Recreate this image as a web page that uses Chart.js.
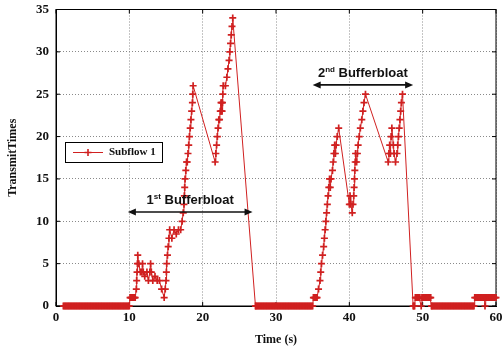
<!DOCTYPE html>
<html lang="en">
<head>
<meta charset="UTF-8">
<title>Subflow 1 Transmit Times</title>
<script src="https://cdn.jsdelivr.net/npm/chart.js"></script>
<style>
  body, html { margin: 0; padding: 0; background: #fff; }
  .chart-container { width: 502px; height: 347px; }
</style>
</head>
<body>
<div class="chart-container"><canvas id="txChart"></canvas></div>
<script>
// [time (s), transmit times], one array per phase
const idleStart = [
  [1,0],[1.125,0],[1.25,0],[1.375,0],[1.5,0],[1.625,0],[1.75,0],[1.875,0],
  [2,0],[2.125,0],[2.25,0],[2.375,0],[2.5,0],[2.625,0],[2.75,0],[2.875,0],
  [3,0],[3.125,0],[3.25,0],[3.375,0],[3.5,0],[3.625,0],[3.75,0],[3.875,0],
  [4,0],[4.125,0],[4.25,0],[4.375,0],[4.5,0],[4.625,0],[4.75,0],[4.875,0],
  [5,0],[5.125,0],[5.25,0],[5.375,0],[5.5,0],[5.625,0],[5.75,0],[5.875,0],
  [6,0],[6.125,0],[6.25,0],[6.375,0],[6.5,0],[6.625,0],[6.75,0],[6.875,0],
  [7,0],[7.125,0],[7.25,0],[7.375,0],[7.5,0],[7.625,0],[7.75,0],[7.875,0],
  [8,0],[8.125,0],[8.25,0],[8.375,0],[8.5,0],[8.625,0],[8.75,0],[8.875,0],
  [9,0],[9.125,0],[9.25,0],[9.375,0],[9.5,0],[9.625,0],[9.75,0],[9.875,0],
  [10,0]
];
const firstBloat = [
  [10.1,1],[10.2,1],[10.3,1],[10.4,1],[10.5,1],[10.6,1],[10.7,1],[10.8,1],[10.95,2],
  [11,3],[11.05,4],[11.1,5],[11.15,6],
  [11.3,5],[11.5,4],[11.7,4],[11.8,5],[11.9,4],[12.1,3.5],[12.4,4],[12.6,3],[12.8,4],
  [12.9,5],[13,4],[13.2,3],[13.5,3.5],[13.8,3],[14.1,3],[14.4,2],[14.75,1],[14.9,2],
  [15,3],[15.05,4],[15.1,5],[15.2,6],[15.3,7],[15.4,8],[15.5,9],[15.8,8],[16.1,9],
  [16.4,8.5],[16.7,9],[17,9],[17.2,10],[17.35,11],[17.45,12],[17.5,13],[17.55,14],
  [17.6,15],[17.7,16],[17.8,17],[17.9,17],[18,18],[18.1,19],[18.2,20],[18.3,21],
  [18.4,22],[18.5,23],[18.6,24],[18.65,25],[18.7,26],
  [21.7,17],[21.8,18],[21.9,19],[22,20],[22.1,21],[22.2,22],[22.3,22],[22.4,23],
  [22.5,24],[22.55,23],[22.6,24],[22.65,23],[22.7,24],[22.75,25],[22.8,26],[23.1,26],
  [23.3,27],[23.45,28],[23.6,29],[23.7,30],[23.8,31],[23.9,32],[24,33],[24.1,34]
];
const idleMiddle = [
  [27.2,0],[27.25,0],[27.375,0],[27.5,0],[27.625,0],[27.75,0],[27.875,0],
  [28,0],[28.125,0],[28.25,0],[28.375,0],[28.5,0],[28.625,0],[28.75,0],[28.875,0],
  [29,0],[29.125,0],[29.25,0],[29.375,0],[29.5,0],[29.625,0],[29.75,0],[29.875,0],
  [30,0],[30.125,0],[30.25,0],[30.375,0],[30.5,0],[30.625,0],[30.75,0],[30.875,0],
  [31,0],[31.125,0],[31.25,0],[31.375,0],[31.5,0],[31.625,0],[31.75,0],[31.875,0],
  [32,0],[32.125,0],[32.25,0],[32.375,0],[32.5,0],[32.625,0],[32.75,0],[32.875,0],
  [33,0],[33.125,0],[33.25,0],[33.375,0],[33.5,0],[33.625,0],[33.75,0],[33.875,0],
  [34,0],[34.125,0],[34.25,0],[34.375,0],[34.5,0],[34.625,0],[34.75,0],[34.875,0],
  [35,0]
];
const secondBloat = [
  [35.1,1],[35.2,1],[35.3,1],[35.4,1],[35.5,1],[35.6,1],[35.8,2],[36,3],[36.1,4],
  [36.2,5],[36.35,6],[36.5,7],
  [36.6,8],[36.7,9],[36.8,10],[36.9,11],[37,12],[37.1,13],[37.2,14],[37.3,15],
  [37.4,14],[37.5,15],[37.7,16],[37.8,17],[37.9,18],[38,19],[38.1,18],[38.2,19],
  [38.35,20],[38.55,21],
  [40,12],[40.1,13],[40.2,12],[40.4,11],[40.5,12],[40.6,13],[40.65,14],[40.7,15],
  [40.75,16],[40.8,17],[40.85,18],[41,17],[41.1,18],[41.2,19],[41.35,20],[41.5,21],
  [41.7,22],[41.85,23],[42,24],[42.2,25],
  [45.3,17],[45.4,18],[45.5,19],[45.6,18],[45.7,20],[45.8,21],[46,19],[46.1,18],
  [46.3,17],[46.5,18],[46.6,19],[46.7,20],[46.8,21],[46.9,22],[47,23],[47.1,24],[47.25,25]
];
const idleEnd = [
  [48.7,0],[48.8,0],[48.9,0],[49,1],[49.125,1],[49.25,1],[49.375,1],[49.5,1],[49.625,1],
  [49.8,0],[49.9,1],[50,1],[50.125,1],[50.25,1],[50.375,1],[50.5,1],[50.625,1],[50.75,1],
  [50.875,1],[51,1],[51.1,1],[51.2,0],
  [51.25,0],[51.375,0],[51.5,0],[51.625,0],[51.75,0],[51.875,0],
  [52,0],[52.125,0],[52.25,0],[52.375,0],[52.5,0],[52.625,0],[52.75,0],[52.875,0],
  [53,0],[53.125,0],[53.25,0],[53.375,0],[53.5,0],[53.625,0],[53.75,0],[53.875,0],
  [54,0],[54.125,0],[54.25,0],[54.375,0],[54.5,0],[54.625,0],[54.75,0],[54.875,0],
  [55,0],[55.125,0],[55.25,0],[55.375,0],[55.5,0],[55.625,0],[55.75,0],[55.875,0],
  [56,0],[56.125,0],[56.25,0],[56.375,0],[56.5,0],[56.625,0],[56.75,0],[56.875,0],
  [57,0],[57.1,1],[57.25,1],[57.375,1],[57.5,1],[57.625,1],[57.75,1],[57.875,1],
  [58,1],[58.125,1],[58.25,1],[58.4,1],[58.5,0],[58.6,1],[58.75,1],[58.875,1],
  [59,1],[59.125,1],[59.25,1],[59.375,1],[59.5,1],[59.625,1],[59.75,1],[59.875,1],[60,1]
];

const xTicks = [0, 10, 20, 30, 40, 50, 60];
const yTicks = [0, 5, 10, 15, 20, 25, 30, 35];
const seriesLabel = 'Subflow 1';

// bufferbloat spans: [start s, end s, arrow level, ordinal, suffix]
const bloats = [
  [9.8, 26.8, 11.1, '1', 'st'],
  [35.0, 48.7, 26.1, '2', 'nd']
];

const RED = 'rgb(208,32,32)';
const SERIF = '"Liberation Serif", "Times New Roman", serif';
const SANS = '"Liberation Sans", Arial, sans-serif';

const points = [...idleStart, ...firstBloat, ...idleMiddle, ...secondBloat, ...idleEnd]
  .map(([x, y]) => ({ x, y }));

const framePlugin = {
  id: 'frame',
  beforeDatasetsDraw(chart) {
    const { ctx, chartArea: a, scales } = chart;
    ctx.save();
    ctx.strokeStyle = '#000';
    ctx.lineWidth = 1;
    ctx.strokeRect(a.left, a.top, a.right - a.left, a.bottom - a.top);
    ctx.beginPath();
    xTicks.forEach(t => {
      const px = scales.x.getPixelForValue(t);
      ctx.moveTo(px, a.bottom); ctx.lineTo(px, a.bottom - 4);
      ctx.moveTo(px, a.top); ctx.lineTo(px, a.top + 4);
    });
    yTicks.forEach(t => {
      const py = scales.y.getPixelForValue(t);
      ctx.moveTo(a.left, py); ctx.lineTo(a.left + 4, py);
      ctx.moveTo(a.right, py); ctx.lineTo(a.right - 4, py);
    });
    ctx.stroke();
    ctx.restore();
  }
};

function drawArrow(ctx, x1, x2, y) {
  const head = 8, half = 3.5;
  ctx.beginPath();
  ctx.moveTo(x1 + head - 1, y); ctx.lineTo(x2 - head + 1, y);
  ctx.stroke();
  ctx.beginPath();
  ctx.moveTo(x1, y); ctx.lineTo(x1 + head, y - half); ctx.lineTo(x1 + head, y + half);
  ctx.closePath(); ctx.fill();
  ctx.beginPath();
  ctx.moveTo(x2, y); ctx.lineTo(x2 - head, y - half); ctx.lineTo(x2 - head, y + half);
  ctx.closePath(); ctx.fill();
}

const bloatPlugin = {
  id: 'bloats',
  afterDatasetsDraw(chart) {
    const { ctx, scales } = chart;
    ctx.save();
    ctx.strokeStyle = '#111';
    ctx.fillStyle = '#111';
    ctx.lineWidth = 1.6;
    bloats.forEach(([t1, t2, level, num, sup]) => {
      const x1 = scales.x.getPixelForValue(t1);
      const x2 = scales.x.getPixelForValue(t2);
      const y = scales.y.getPixelForValue(level);
      drawArrow(ctx, x1, x2, y);

      const big = 'bold 13px ' + SANS, small = 'bold 8px ' + SANS;
      const rest = ' Bufferbloat';
      ctx.font = big;
      const w1 = ctx.measureText(num).width, w3 = ctx.measureText(rest).width;
      ctx.font = small;
      const w2 = ctx.measureText(sup).width;
      let x = (x1 + x2) / 2 - (w1 + w2 + w3) / 2;
      const base = y - 8;
      ctx.textAlign = 'left';
      ctx.textBaseline = 'alphabetic';
      ctx.font = big; ctx.fillText(num, x, base); x += w1;
      ctx.font = small; ctx.fillText(sup, x, base - 5); x += w2;
      ctx.font = big; ctx.fillText(rest, x, base);
    });
    ctx.restore();
  }
};

const legendPlugin = {
  id: 'boxLegend',
  afterDraw(chart) {
    const { ctx } = chart;
    const bx = 65, by = 142, bw = 97, bh = 20;
    ctx.save();
    ctx.fillStyle = '#fff';
    ctx.fillRect(bx, by, bw, bh);
    ctx.strokeStyle = '#000';
    ctx.lineWidth = 1;
    ctx.strokeRect(bx + 0.5, by + 0.5, bw, bh);
    const cy = by + bh / 2 + 0.5;
    ctx.strokeStyle = RED;
    ctx.beginPath();
    ctx.moveTo(bx + 8, cy); ctx.lineTo(bx + 38, cy);
    ctx.stroke();
    ctx.lineWidth = 1.6;
    ctx.beginPath();
    ctx.moveTo(bx + 23, cy - 3.5); ctx.lineTo(bx + 23, cy + 3.5);
    ctx.moveTo(bx + 19.5, cy); ctx.lineTo(bx + 26.5, cy);
    ctx.stroke();
    ctx.fillStyle = '#111';
    ctx.font = 'bold 11px ' + SERIF;
    ctx.textBaseline = 'middle';
    ctx.fillText(seriesLabel, bx + 44, cy);
    ctx.restore();
  }
};

new Chart(document.getElementById('txChart'), {
  type: 'line',
  data: {
    datasets: [{
      label: seriesLabel,
      data: points,
      borderColor: RED,
      borderWidth: 1,
      pointStyle: 'cross',
      pointRadius: 3.5,
      pointBorderWidth: 1.7,
      pointBorderColor: RED,
      pointBackgroundColor: RED,
      tension: 0,
      clip: false
    }]
  },
  options: {
    responsive: true,
    maintainAspectRatio: false,
    animation: false,
    layout: { padding: { top: 9.5, right: 6, bottom: 0, left: 0 } },
    plugins: { legend: { display: false }, tooltip: { enabled: false } },
    scales: {
      x: {
        type: 'linear',
        min: 0, max: 60,
        afterBuildTicks: s => { s.ticks = xTicks.map(v => ({ value: v })); },
        afterFit: s => { s.height = 41; s.paddingLeft = 0; s.paddingRight = 0; },
        ticks: { color: '#111', font: { family: SERIF, size: 13, weight: 'bold' }, padding: 4 },
        grid: { color: '#8a8a8a', lineWidth: 1, drawTicks: false },
        border: { display: true, color: '#000', dash: [1, 2] },
        title: {
          display: true, text: 'Time (s)', color: '#111',
          font: { family: SERIF, size: 12, weight: 'bold' },
          padding: { top: 0, bottom: 0 }
        }
      },
      y: {
        min: 0, max: 35,
        afterBuildTicks: s => { s.ticks = yTicks.map(v => ({ value: v })); },
        afterFit: s => { s.width = 56; s.paddingTop = 0; s.paddingBottom = 0; },
        ticks: { color: '#111', font: { family: SERIF, size: 13, weight: 'bold' }, padding: 7 },
        grid: { color: '#8a8a8a', lineWidth: 1, drawTicks: false },
        border: { display: true, color: '#000', dash: [1, 2] },
        title: {
          display: true, text: 'TransmitTimes', color: '#111',
          font: { family: SERIF, size: 12, weight: 'bold' },
          padding: { top: 6, bottom: 0 }
        }
      }
    }
  },
  plugins: [framePlugin, bloatPlugin, legendPlugin]
});
</script>
</body>
</html>
